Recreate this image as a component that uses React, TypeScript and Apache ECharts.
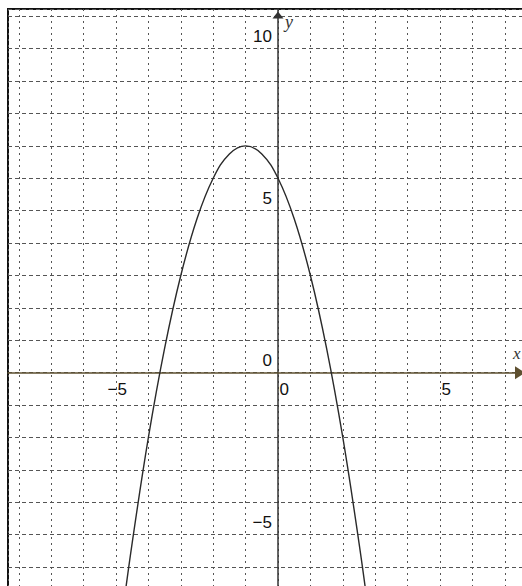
import { useEffect, useRef } from 'react';
import * as echarts from 'echarts';

// Points (x, y)
const curveX = [-4.8, -4.5, -4, -3.5, -3, -2.5, -2, -1.5, -1, -0.5, 0, 0.5, 1, 1.5, 2, 2.5, 2.8];
const curveY = [-7.44, -5.25, -2, 0.75, 3, 4.75, 6, 6.75, 7, 6.75, 6, 4.75, 3, 0.75, -2, -5.25, -7.44];

// Tick labels shown along the axes
const xLabelValues = [-5, 0, 5];
const yLabelValues = [-5, 0, 5, 10];

const xRange = [-8.333, 7.685];
const yRange = [-6.738, 11.225];

const fmt = (v: number) => (v < 0 ? '\u2212' + Math.abs(v) : String(v));

const labelFont = {
  fontFamily: 'Liberation Sans',
  fontSize: 17,
  color: '#111111',
  opacity: 1,
  textBorderWidth: 0,
};

export default function App() {
  const ref = useRef<HTMLDivElement>(null);
  useEffect(() => {
    const chart = echarts.init(ref.current!, null, { renderer: 'svg' });
    chart.setOption({
      animation: false,
      backgroundColor: '#ffffff',
      grid: {
        left: 8,
        top: 9,
        right: -5,
        bottom: -5,
        show: true,
        borderColor: '#111111',
        borderWidth: 2,
        containLabel: false,
        outerBoundsMode: 'none',
      },
      xAxis: {
        type: 'value',
        min: xRange[0],
        max: xRange[1],
        splitNumber: 16,
        minInterval: 1,
        maxInterval: 1,
        name: 'x',
        nameLocation: 'end',
        nameGap: -14,
        nameTextStyle: {
          fontFamily: 'Liberation Serif',
          fontStyle: 'italic',
          fontSize: 17,
          color: '#333',
          align: 'left',
          verticalAlign: 'bottom',
          padding: [0, 0, 11, 0],
        },
        axisLine: {
          onZero: true,
          lineStyle: { color: '#5e5030', width: 1.5 },
          symbol: ['none', 'triangle'],
          symbolSize: [13, 10],
          symbolOffset: [0, -7],
        },
        axisTick: { show: false },
        axisLabel: { show: false },
        splitLine: {
          show: true,
          lineStyle: { color: '#555', width: 1, type: [2, 4] },
        },
      },
      yAxis: {
        type: 'value',
        min: yRange[0],
        max: yRange[1],
        splitNumber: 18,
        minInterval: 1,
        maxInterval: 1,
        name: 'y',
        nameLocation: 'end',
        nameGap: -22,
        nameTextStyle: {
          fontFamily: 'Liberation Serif',
          fontStyle: 'italic',
          fontSize: 18,
          color: '#333',
          align: 'left',
          verticalAlign: 'bottom',
          padding: [0, 0, 0, 7],
        },
        axisLine: {
          onZero: true,
          lineStyle: { color: '#333', width: 1.5 },
          symbol: ['none', 'triangle'],
          symbolSize: [11, 7],
          symbolOffset: [0, -6],
        },
        axisTick: { show: false },
        axisLabel: { show: false },
        splitLine: {
          show: true,
          lineStyle: { color: '#555', width: 1, type: [4, 3] },
        },
      },
      series: [
        {
          type: 'line',
          data: curveX.map((x, i) => [x, curveY[i]]),
          smooth: 0.4,
          showSymbol: false,
          symbol: 'none',
          clip: true,
          lineStyle: { color: '#2a2a2a', width: 1.4 },
          z: 3,
        },
        {
          type: 'scatter',
          silent: true,
          symbolSize: 0,
          itemStyle: { color: '#111111', opacity: 1 },
          data: xLabelValues.map((v) => [v, 0]),
          label: {
            show: true,
            ...labelFont,
            position: [11, 8],
            align: 'right',
            verticalAlign: 'top',
            formatter: (p: any) => fmt(p.value[0]),
          },
          z: 4,
        },
        {
          type: 'scatter',
          silent: true,
          symbolSize: 0,
          itemStyle: { color: '#111111', opacity: 1 },
          data: yLabelValues.map((v) => [0, v]),
          label: {
            show: true,
            ...labelFont,
            position: [-6, -12],
            align: 'right',
            verticalAlign: 'middle',
            formatter: (p: any) => fmt(p.value[1]),
          },
          z: 4,
        },
      ],
    });
    return () => chart.dispose();
  }, []);
  return (
    <div
      ref={ref}
      style={{ position: 'fixed', left: 0, top: 0, width: 522, height: 586, background: '#fff' }}
    />
  );
}
